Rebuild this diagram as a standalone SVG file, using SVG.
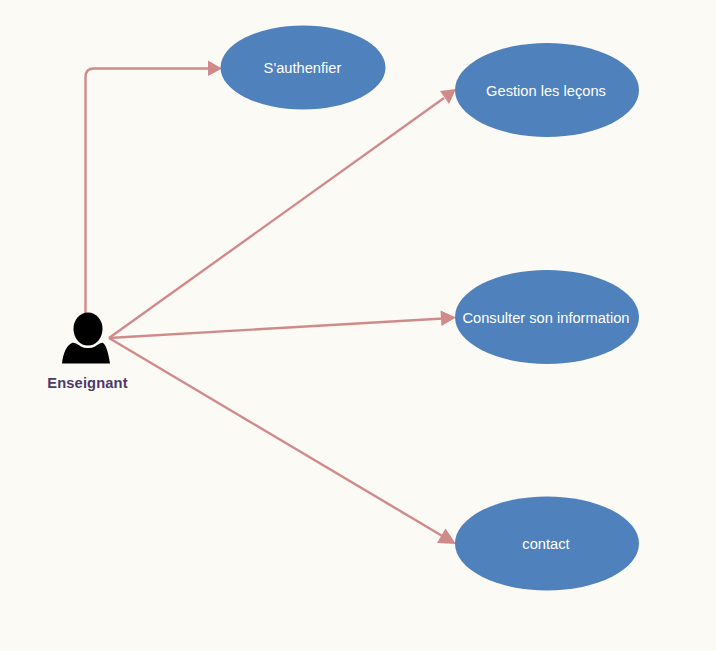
<svg xmlns="http://www.w3.org/2000/svg" width="716" height="651" viewBox="0 0 716 651">
<style>
.uc{fill:#4f81bd}
.t{font-family:"Liberation Sans",Arial,sans-serif;font-size:14.67px;fill:#fff;text-anchor:middle}
.c{fill:none;stroke:#d08a8a;stroke-width:2.4}
.a{fill:#d08a8a;stroke:none}
</style>
<rect width="716" height="651" fill="#fcfaf5"/>
<g id="connectors">
<path class="c" d="M85.500 313V77Q85.500 68.500 94 68.500H210"/>
<polygon class="a" points="222,68.500 208,60.500 208,76"/>
<path class="c" d="M109 338L444 98"/>
<polygon class="a" points="456,89 440,91 449,104"/>
<path class="c" d="M109 338L443 318.500"/>
<polygon class="a" points="456,317.500 440.500,310.500 441.500,326"/>
<path class="c" d="M109 338L444 537"/>
<polygon class="a" points="456,544 445.500,528.500 437,543"/>
</g>
<g id="actor">
<ellipse cx="88" cy="329" rx="14.500" ry="16.500" fill="#000"/>
<path d="M62 363.500C63 353 67 345 72 343C75 342 78 345 81 346.500C85 348.500 91 348.500 95 346.500C98 345 101 342 103 343C106 345 108.500 353 110 363.500Z" fill="#000"/>
<text x="87.500" y="388" font-family="'Liberation Sans',Arial,sans-serif" font-size="14.67" font-weight="bold" letter-spacing="0.15" fill="#4b3a6b" text-anchor="middle">Enseignant</text>
</g>
<g id="n1"><ellipse class="uc" cx="303" cy="67.500" rx="82.500" ry="42"/><text class="t" x="302.500" y="73">S'authenfier</text></g>
<g id="n2"><ellipse class="uc" cx="547" cy="90" rx="92" ry="47"/><text class="t" x="546" y="96">Gestion les leçons</text></g>
<g id="n3"><ellipse class="uc" cx="547" cy="317" rx="92" ry="47"/><text class="t" x="546" y="323">Consulter son information</text></g>
<g id="n4"><ellipse class="uc" cx="547" cy="543.500" rx="92" ry="47"/><text class="t" x="546" y="549">contact</text></g>
</svg>
